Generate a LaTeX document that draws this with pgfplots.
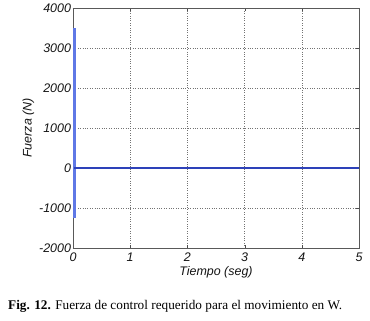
\documentclass[border=0pt]{standalone}
\usepackage{fontspec}
\setmainfont{Liberation Serif}
\setsansfont{Liberation Sans}
\usepackage{pgfplots}
\pgfplotsset{compat=1.18}
\definecolor{lineA}{RGB}{95,120,230}
\definecolor{lineB}{RGB}{45,65,185}
\begin{document}
\begin{tikzpicture}[x=1bp,y=1bp]
\path[use as bounding box] (-73,-73) rectangle (297,248);
\begin{axis}[
  at={(0,0)}, anchor=south west,
  width=286bp, height=240bp, scale only axis,
  xmin=0, xmax=5, ymin=-2000, ymax=4000,
  xtick={0,1,2,3,4,5},
  ytick={-2000,-1000,0,1000,2000,3000,4000},
  yticklabels={-2000,-1000,0,1000,2000,3000,4000},
  xticklabels={0,1,2,3,4,5},
  tick align=inside,
  major tick length=3bp,
  tick style={black!70},
  axis line style={black!65},
  grid=major,
  major grid style={dotted, black!55},
  ticklabel style={font=\sffamily\itshape\fontsize{12.5}{13}\selectfont, text=black!92},
  label style={font=\sffamily\itshape\fontsize{12.5}{13}\selectfont, text=black!92},
  xlabel={Tiempo (seg)},
  ylabel={Fuerza (N)},
  xlabel style={yshift=2bp},
  ylabel style={yshift=-2bp},
  yticklabel style={xshift=1.5bp},
  xticklabel style={yshift=-1bp},
  clip=false,
]
\addplot[lineA, line width=3bp] coordinates {(0.025,-1250) (0.025,3500)};
\addplot[lineB, line width=2.5bp] coordinates {(0.02,0) (5,0)};
\end{axis}
\node[anchor=base west, font=\fontsize{13.3}{14}\selectfont, inner sep=0] at (-65,-61) {\textbf{Fig. 12.} Fuerza de control requerido para el movimiento en W.};
\end{tikzpicture}
\end{document}
